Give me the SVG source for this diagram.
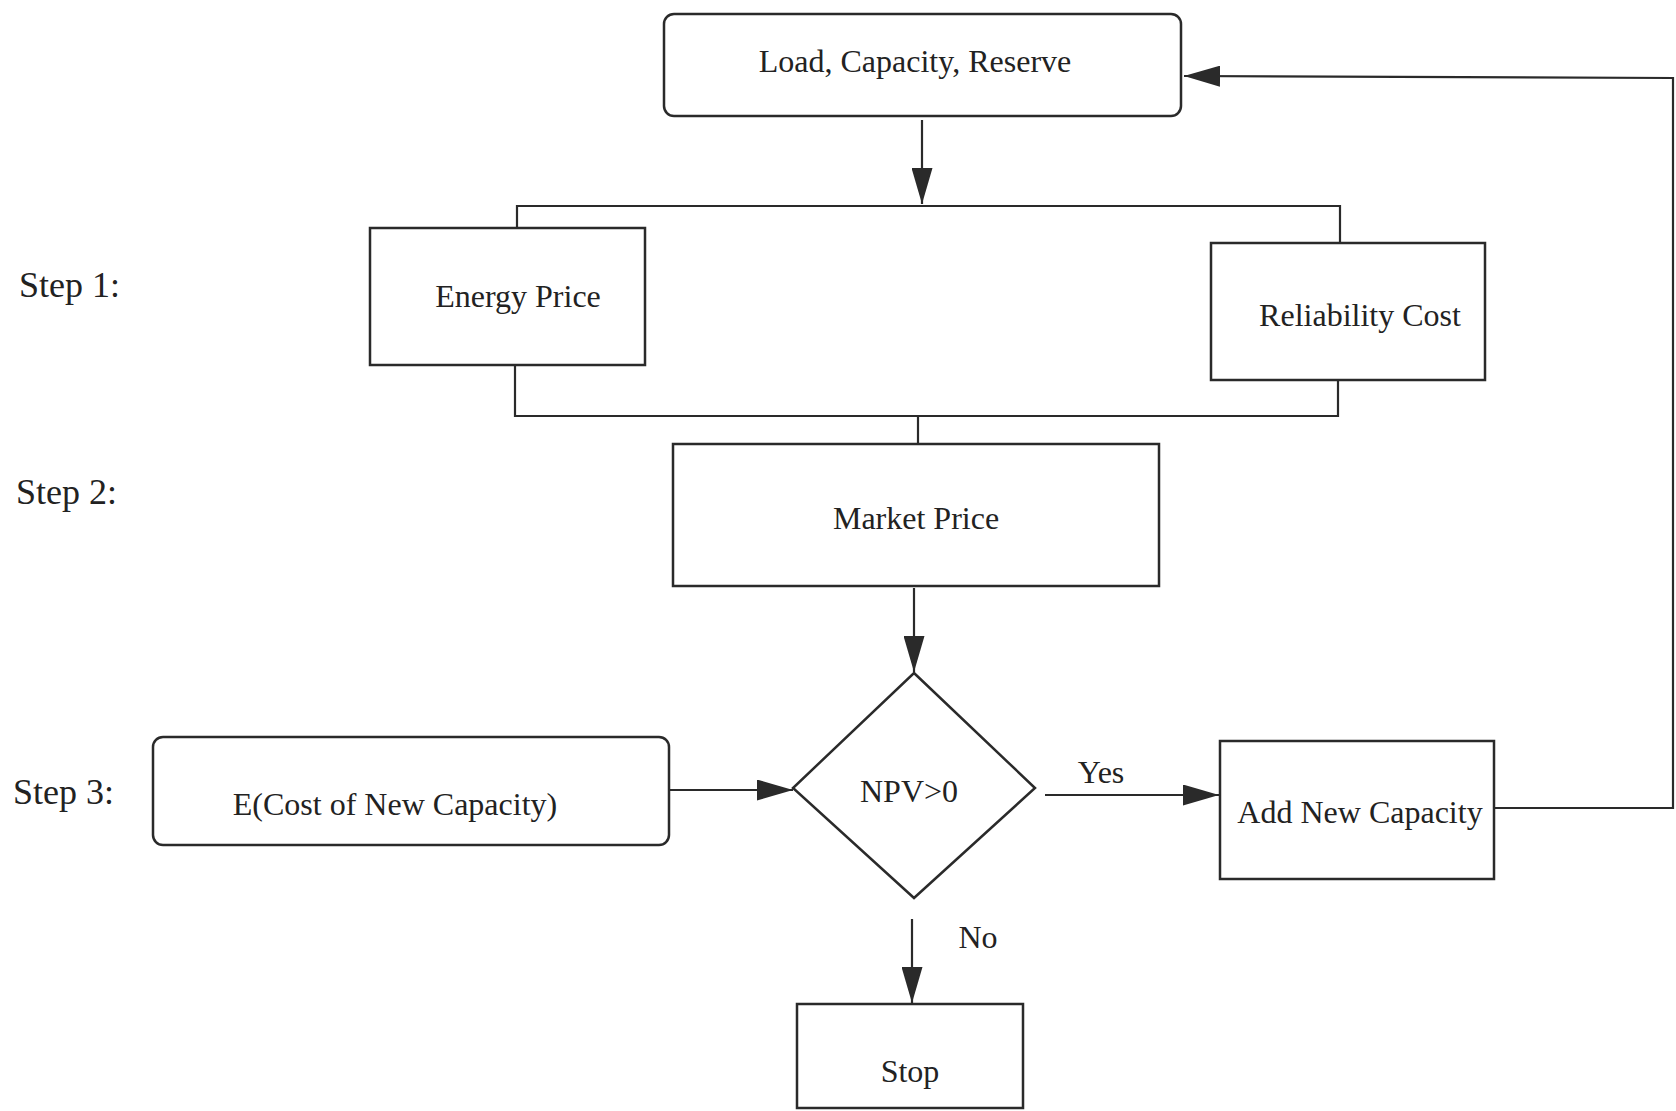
<svg xmlns="http://www.w3.org/2000/svg" width="1676" height="1111" viewBox="0 0 1676 1111">
<style>
.box{fill:#fff;stroke:#2a2a2a;stroke-width:2.5}
.ln{fill:none;stroke:#2a2a2a;stroke-width:2.2}
.t{font-family:"Liberation Serif","Times New Roman",serif;font-size:32px;fill:#222;text-anchor:middle}
.s{font-family:"Liberation Serif","Times New Roman",serif;font-size:36px;fill:#222}
</style>
<defs>
<marker id="ah" viewBox="0 0 36 21" refX="36" refY="10.5" markerWidth="36" markerHeight="21" markerUnits="userSpaceOnUse" orient="auto">
<path d="M0,0 L36,10.5 L0,21 z" fill="#2a2a2a"/>
</marker>
</defs>
<rect width="1676" height="1111" fill="#fff"/>
<g id="labels">
<text class="s" x="19" y="297">Step 1:</text>
<text class="s" x="16" y="504">Step 2:</text>
<text class="s" x="13" y="804">Step 3:</text>
<text class="t" x="1101" y="783">Yes</text>
<text class="t" x="978" y="948">No</text>
</g>
<g id="connectors">
<line class="ln" x1="922" y1="120" x2="922" y2="204" marker-end="url(#ah)"/>
<polyline class="ln" points="517,228 517,206 1340,206 1340,243"/>
<polyline class="ln" points="515,365 515,416 1338,416 1338,380"/>
<line class="ln" x1="918" y1="416" x2="918" y2="444"/>
<line class="ln" x1="914" y1="588" x2="914" y2="672" marker-end="url(#ah)"/>
<line class="ln" x1="668" y1="790" x2="793" y2="790" marker-end="url(#ah)"/>
<line class="ln" x1="1045" y1="795" x2="1219" y2="795" marker-end="url(#ah)"/>
<line class="ln" x1="912" y1="919" x2="912" y2="1003" marker-end="url(#ah)"/>
<polyline class="ln" points="1494,808 1673,808 1673,78 1184,76" marker-end="url(#ah)"/>
</g>
<g id="load">
<rect class="box" x="664" y="14" width="517" height="102" rx="10"/>
<text class="t" x="915" y="72">Load, Capacity, Reserve</text>
</g>
<g id="energy">
<rect class="box" x="370" y="228" width="275" height="137"/>
<text class="t" x="518" y="307">Energy Price</text>
</g>
<g id="reliability">
<rect class="box" x="1211" y="243" width="274" height="137"/>
<text class="t" x="1360" y="326">Reliability Cost</text>
</g>
<g id="market">
<rect class="box" x="673" y="444" width="486" height="142"/>
<text class="t" x="916" y="529">Market Price</text>
</g>
<g id="npv">
<polygon class="box" points="914,673 1035,788 914,898 793,788"/>
<text class="t" x="909" y="802">NPV&gt;0</text>
</g>
<g id="cost">
<rect class="box" x="153" y="737" width="516" height="108" rx="10"/>
<text class="t" x="395" y="815">E(Cost of New Capacity)</text>
</g>
<g id="add">
<rect class="box" x="1220" y="741" width="274" height="138"/>
<text class="t" x="1360" y="823">Add New Capacity</text>
</g>
<g id="stop">
<rect class="box" x="797" y="1004" width="226" height="104"/>
<text class="t" x="910" y="1082">Stop</text>
</g>
</svg>
